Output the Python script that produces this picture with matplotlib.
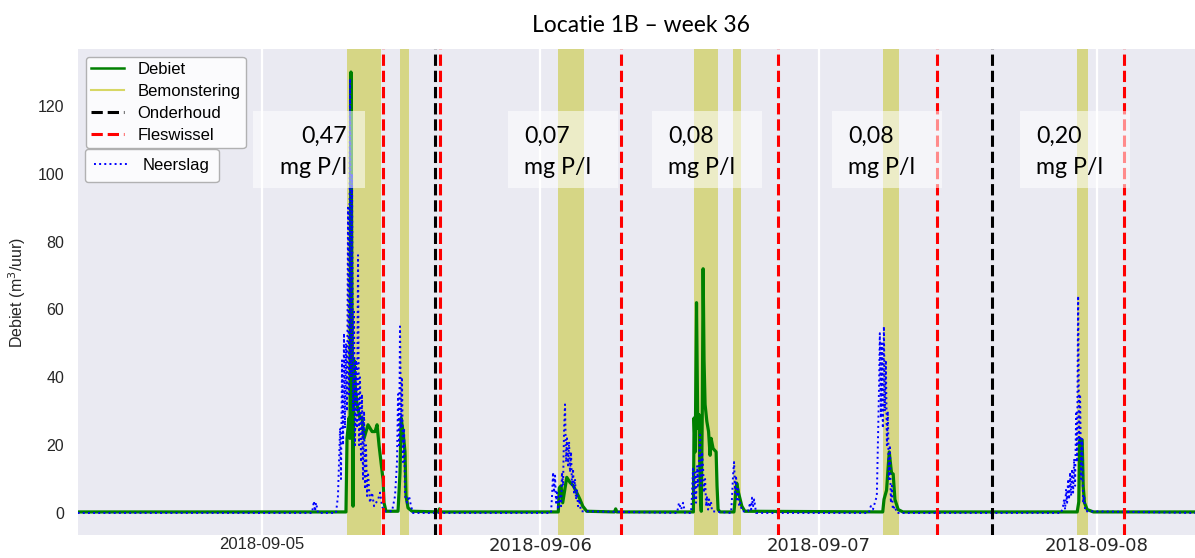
import numpy as np
import pandas as pd
import matplotlib
matplotlib.use('Agg')
import matplotlib.pyplot as plt
import matplotlib.dates as mdates
from matplotlib.lines import Line2D
from matplotlib.patches import Rectangle

start = pd.Timestamp('2018-09-05 00:00')

# tijd in uren vanaf 2018-09-05 00:00, debiet in m3/uur
debiet_uur = [-15.9, 7.24, 7.33, 7.50, 7.59, 7.67, 7.76, 7.85, 7.93, 8.02, 8.19, 8.45,
              8.62, 8.80, 9.14, 9.49, 9.75, 9.92, 10.09, 10.26, 10.43, 10.52, 10.69,
              11.73, 11.90, 11.99, 12.16, 12.33, 12.42, 12.59, 12.94, 15.2, 15.3, 15.4,
              25.55, 25.64, 25.79, 25.93, 26.28, 26.56, 26.85, 27.14, 27.42, 27.66, 28.00,
              30.40, 30.50, 30.60,
              37.20, 37.26, 37.36, 37.47, 37.58, 37.68, 37.80, 37.88, 37.97, 38.04, 38.12,
              38.21, 38.36, 38.51, 38.64, 38.73, 38.90, 39.16, 39.24, 39.33, 39.50,
              40.70, 40.80, 40.94, 41.09, 41.38, 41.64,
              53.53, 53.64, 53.86, 54.09, 54.29, 54.43, 54.58, 54.86, 55.27,
              70.30, 70.44, 70.52, 70.73, 70.82, 70.93, 71.16, 71.70, 80.5]
debiet = [0.3, 0.3, 22, 28, 22, 130, 60, 2, 45, 38, 32, 28,
          28, 22, 26, 24, 24, 26, 20, 15, 10, 3, 0.5,
          0.5, 12, 28, 24, 18, 5, 1.5, 0.5, 0.3, 1.2, 0.3,
          0.3, 7.4, 8, 3, 10.5, 9, 8, 6, 4, 2, 0.5,
          0.3, 1.2, 0.3,
          0.3, 28, 18, 62, 25, 29, 5, 0.5, 30, 72, 45,
          32, 27, 24, 17, 22, 19, 18, 8, 1, 0.3,
          0.3, 4, 8.8, 6, 2, 0.5,
          0.3, 4, 6.7, 18, 11.7, 11.5, 4, 1, 0.3,
          0.3, 3.3, 21.5, 21.5, 7.8, 3, 1, 0.3, 0.3]

neerslag_uur = [-15.9, 4.31, 4.48, 4.57, 4.66, 4.83, 6.38, 6.55, 6.73, 6.81, 6.90, 6.99,
                7.07, 7.16, 7.24, 7.33, 7.42, 7.50, 7.59, 7.67, 7.76, 7.85, 7.93, 8.02,
                8.11, 8.19, 8.28, 8.37, 8.45, 8.54, 8.62, 8.71, 8.80, 8.88, 8.97, 9.06,
                9.14, 9.31, 9.49, 9.66, 10.01, 10.18, 10.35, 10.52, 11.21, 11.47, 11.64,
                11.73, 11.82, 11.90, 11.99, 12.07, 12.16, 12.25, 12.33, 12.51, 12.68,
                12.85, 13.02,
                24.92, 25.01, 25.10, 25.18, 25.27, 25.36, 25.44, 25.53, 25.70, 25.79,
                25.87, 25.96, 26.05, 26.13, 26.22, 26.30, 26.39, 26.48, 26.56, 26.65,
                26.73, 26.82, 26.91, 26.99, 27.08, 27.16, 27.25, 27.34, 27.51,
                35.79, 35.96, 36.14, 36.31, 36.48, 37.00, 37.09, 37.17, 37.26, 37.35,
                37.43, 37.52, 37.60, 37.69, 37.78, 37.86, 37.95, 38.04, 38.12, 38.21,
                38.30, 38.38, 38.47, 38.55, 38.64, 38.73, 38.81,
                40.45, 40.54, 40.62, 40.71, 40.80, 40.88, 40.97, 41.06, 41.14, 41.23,
                41.40, 41.92, 42.09, 42.18, 42.26, 42.35, 42.44, 42.61,
                52.33, 52.50, 52.68, 52.85, 53.02, 53.11, 53.20, 53.28, 53.37, 53.45,
                53.54, 53.63, 53.71, 53.80, 53.89, 53.97, 54.06, 54.15, 54.23, 54.32,
                54.40, 54.57, 54.75,
                68.91, 69.08, 69.17, 69.26, 69.34, 69.43, 69.52, 69.60, 69.69, 69.78,
                69.86, 69.95, 70.04, 70.12, 70.21, 70.29, 70.38, 70.47, 70.55, 70.64,
                70.73, 70.81, 70.90, 70.99, 80.5]
neerslag = [0, 0, 3.5, 0.5, 3, 0, 0, 5, 25, 10, 45, 20,
            53, 25, 50, 30, 90, 35, 128, 40, 100, 30, 60, 20,
            45, 25, 76, 20, 40, 15, 35, 10, 30, 7, 20, 5,
            12, 3, 6, 2, 4, 6, 2, 0.5, 0.5, 5, 15,
            35, 20, 55, 25, 40, 15, 25, 5, 3, 5,
            2, 0,
            0, 5, 12, 6, 11, 3, 6, 1, 5, 2,
            12, 8, 25, 32, 15, 22, 14, 21, 12, 18,
            8, 13, 6, 10, 4, 7, 2, 4, 0.5,
            0, 3, 1, 3, 0, 0, 6, 13, 4, 12,
            3, 14, 8, 16, 23, 8, 18, 13, 6, 10,
            2, 5, 1, 4, 2, 3, 0.5,
            0, 5, 11, 15, 6, 11, 4, 7, 2, 3,
            0.5, 0.5, 3, 1, 4.5, 2, 4, 0,
            0, 2, 1, 3, 5, 20, 35, 53, 28, 50,
            25, 55, 30, 45, 20, 30, 10, 20, 3, 8,
            1, 2, 0,
            0, 2, 4, 1, 7, 3, 10, 4, 12, 5,
            13, 6, 16, 8, 30, 15, 64, 20, 35, 10,
            22, 3, 5, 0.5, 0]

bemonstering = [(7.37, 10.26), (11.90, 12.68), (25.53, 27.77), (37.26, 39.33),
                (40.62, 41.31), (53.56, 54.94), (70.29, 71.24)]
onderhoud = [14.92, 62.96]
fleswissel = [10.43, 15.35, 30.96, 44.50, 58.21, 74.34]
concentraties = ['0,47', '0,07', '0,08', '0,08', '0,20']
dagen = ['2018-09-05', '2018-09-06', '2018-09-07', '2018-09-08']


def t(uren):
    return start + pd.to_timedelta(np.array(uren, dtype=float), unit='h')


W, H = 1195, 558
fig = plt.figure(figsize=(W / 100, H / 100), dpi=100)
ax = fig.add_axes([78 / W, 1 - 535 / H, 1 - 78 / W, (535 - 49) / H])
ax.set_facecolor('#EAEAF2')
for s in ax.spines.values():
    s.set_visible(False)

for a, b in bemonstering:
    ax.axvspan(t([a])[0], t([b])[0], color='y', alpha=0.45, lw=0, zorder=1)

ax.plot(t(debiet_uur), debiet, color='green', lw=2.3, zorder=3)
ax.plot(t(neerslag_uur), neerslag, color='blue', ls=':', lw=1.4, zorder=4)

for x in onderhoud:
    ax.axvline(t([x])[0], color='k', ls='--', lw=2.2, zorder=5)
for x in fleswissel:
    ax.axvline(t([x])[0], color='r', ls='--', lw=2.2, zorder=5)

ax.set_xlim(t([-15.87])[0], t([80.46])[0])
ax.set_ylim(-6.5, 136.8)
ax.set_yticks([0, 20, 40, 60, 80, 100, 120])
ax.set_xticks(pd.to_datetime(dagen))
ax.xaxis.set_major_formatter(mdates.DateFormatter('%Y-%m-%d'))
ax.grid(axis='x', color='white', lw=1.6)
ax.grid(axis='y', visible=False)
ax.set_axisbelow(True)
ax.tick_params(length=0)
ax.tick_params(axis='y', pad=10, labelsize=11.5, labelcolor='#262626')
ax.tick_params(axis='x', pad=1.5, labelcolor='#262626')
for i, lab in enumerate(ax.get_xticklabels()):
    lab.set_family('Liberation Sans' if i == 0 else 'DejaVu Sans')
    lab.set_fontsize(12 if i == 0 else 13)
for lab in ax.get_yticklabels():
    lab.set_family('Liberation Sans')

ax.set_ylabel('Debiet (m$^3$/uur)', fontsize=11.5, family='Liberation Sans', color='#262626')
ax.yaxis.set_label_coords(-0.045, 0.5)

fig.text(641 / W, 1 - 25 / H, 'Locatie 1B \u2013 week 36', ha='center', va='center',
         fontsize=16.5, family='Lato')

h1 = [Line2D([], [], color='green', lw=1.8),
      Line2D([], [], color='y', alpha=0.6, lw=1.5),
      Line2D([], [], color='k', ls='--', lw=2.2),
      Line2D([], [], color='r', ls='--', lw=2.2)]
leg1 = ax.legend(h1, ['Debiet', 'Bemonstering', 'Onderhoud', 'Fleswissel'],
                 loc='upper left', bbox_to_anchor=(86 / W, 1 - 57 / H),
                 bbox_transform=fig.transFigure, borderaxespad=0,
                 prop={'family': 'Liberation Sans', 'size': 12},
                 labelspacing=0.42, handlelength=2.0, handletextpad=0.8,
                 borderpad=0.3, facecolor='white', framealpha=0.85, edgecolor='0.65')
ax.add_artist(leg1)
h2 = [Line2D([], [], color='blue', ls=':', lw=1.4)]
ax.legend(h2, ['Neerslag'], loc='upper left', bbox_to_anchor=(85 / W, 1 - 149 / H),
          bbox_transform=fig.transFigure, borderaxespad=0,
          prop={'family': 'Liberation Sans', 'size': 12},
          handlelength=2.0, handletextpad=0.9, borderpad=0.55,
          facecolor='white', framealpha=0.85, edgecolor='0.65')

# tekstvakken met concentratie
vakken = [(253, 365, 'right'), (508, 618, 'left'), (652, 762, 'left'),
          (832, 942, 'left'), (1020, 1130, 'left')]
for (x0, x1, uitl), c in zip(vakken, concentraties):
    fig.patches.append(Rectangle((x0 / W, 1 - 188 / H), (x1 - x0) / W, 77 / H,
                                 transform=fig.transFigure, facecolor='white',
                                 alpha=0.55, lw=0, zorder=6))
    xt = (x1 - 18) / W if uitl == 'right' else (x0 + 16) / W
    fig.text(xt, 1 - 136 / H, c, ha=uitl, va='center', fontsize=16.7, family='Lato', zorder=7)
    fig.text(xt, 1 - 167 / H, 'mg P/l', ha=uitl, va='center', fontsize=16.7, family='Lato',
             zorder=7)

fig.savefig('out.png', dpi=100)
